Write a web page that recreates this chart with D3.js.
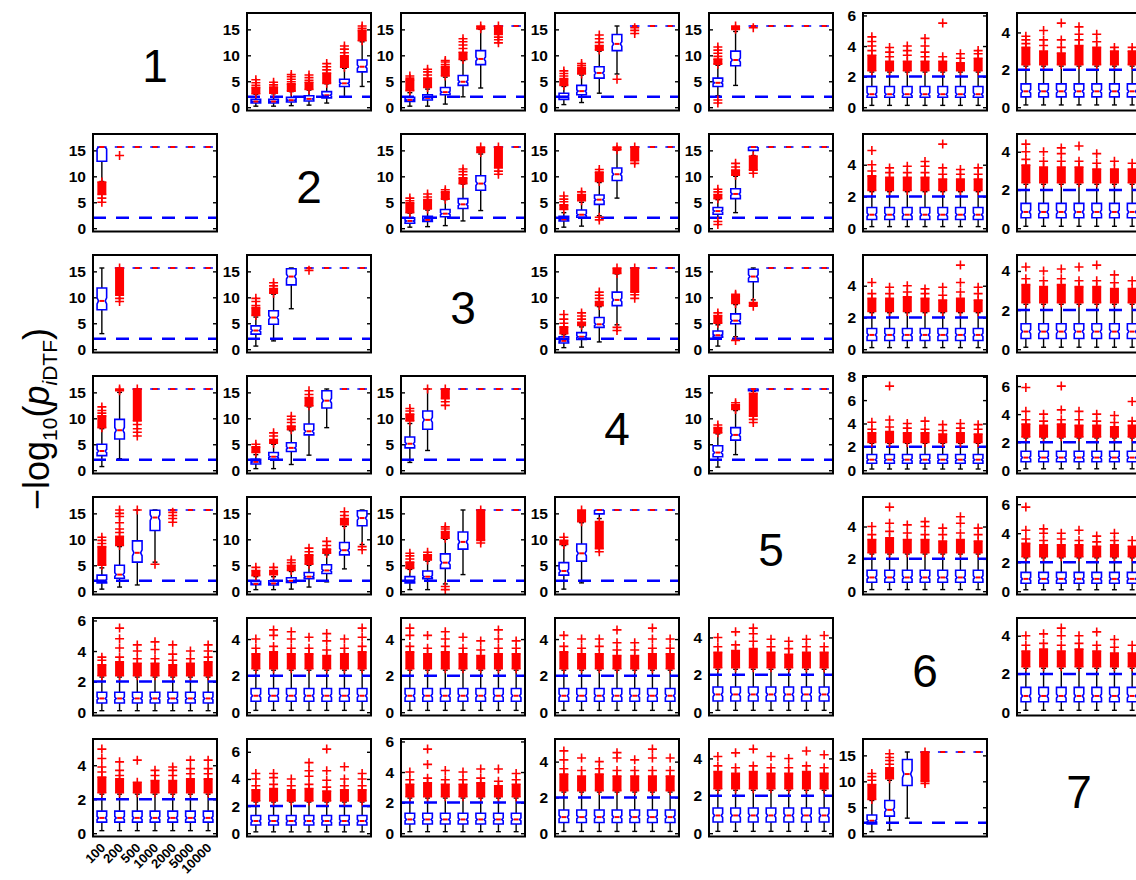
<!DOCTYPE html>
<html>
<head>
<meta charset="utf-8">
<script src="https://cdn.jsdelivr.net/npm/d3@7"></script>
<style>
  body { margin: 0; background: #fff; }
  svg { display: block; }
</style>
</head>
<body>
<svg id="chart" width="1136" height="880"></svg>
<script>
// Ceiling of -log10(p): values saturate at -log10(eps)
const C = 15.65;
const thresholdLevel = 2;

const sampleSizes = ["100", "200", "500", "1000", "2000", "5000", "10000"];
const nodeLabels = ["1", "2", "3", "4", "5", "6", "7"];
const ticksLarge = [0, 5, 10, 15];
const ticksSmall = [0, 2, 4, 6, 8];

// Box statistics for directed pairs with a true connection:
// [row, col, box, lowerWhisker, q1, median, q3, upperWhisker]
const boxStats = [
  [0,1,1, 0.2,0.8,1.1,1.5,2.5], [0,1,2, 0.2,0.8,1.1,1.5,2.6], [0,1,3, 0.3,1.0,1.35,1.9,3.0],
  [0,1,4, 0.4,1.2,1.6,2.2,3.3], [0,1,5, 0.8,1.8,2.3,3.0,4.5], [0,1,6, 2.0,4.0,4.6,5.4,7.5],
  [0,1,7, 4.0,6.8,7.8,9.1,12.6],
  [0,2,1, 0.2,1.1,1.4,1.9,2.8], [0,2,2, 0.2,1.4,1.8,2.4,3.5], [0,2,3, 0.6,2.4,2.9,3.8,5.8],
  [0,2,4, 2.0,4.2,4.9,6.1,9.0], [0,2,5, 3.7,8.2,9.3,10.9,15.0], [0,2,6, C,C,C,C,C], [0,2,7, C,C,C,C,C],
  [0,3,1, 0.5,1.5,2.0,2.7,4.0], [0,3,2, 0.9,2.4,3.1,4.2,6.2], [0,3,3, 2.7,5.6,6.6,7.8,10.8],
  [0,3,4, 6.4,10.9,12.2,14.0,C], [0,3,5, C,C,C,C,C], [0,3,6, C,C,C,C,C], [0,3,7, C,C,C,C,C],
  [0,4,1, 2.2,4.0,4.7,5.6,8.1], [0,4,2, 4.2,8.0,9.1,10.8,14.6], [0,4,3, C,C,C,C,C],
  [0,4,4, C,C,C,C,C], [0,4,5, C,C,C,C,C], [0,4,6, C,C,C,C,C], [0,4,7, C,C,C,C,C],

  [1,0,1, 9.0,12.9,15.65,15.65,C], [1,0,2, C,C,C,C,C], [1,0,3, C,C,C,C,C], [1,0,4, C,C,C,C,C],
  [1,0,5, C,C,C,C,C], [1,0,6, C,C,C,C,C], [1,0,7, C,C,C,C,C],
  [1,2,1, 0.2,0.95,1.4,2.0,2.9], [1,2,2, 0.3,1.3,1.6,2.3,3.5], [1,2,3, 0.5,2.2,2.8,3.6,5.5],
  [1,2,4, 1.4,3.8,4.6,5.7,8.5], [1,2,5, 3.4,7.3,8.6,10.1,14.3], [1,2,6, C,C,C,C,C], [1,2,7, C,C,C,C,C],
  [1,3,1, 0.2,1.4,1.7,2.3,3.0], [1,3,2, 0.4,2.1,2.6,3.5,5.0], [1,3,3, 2.4,4.6,5.5,6.4,8.8],
  [1,3,4, 5.8,9.2,10.4,11.6,15.0], [1,3,5, C,C,C,C,C], [1,3,6, C,C,C,C,C], [1,3,7, C,C,C,C,C],
  [1,4,1, 1.9,2.7,3.3,4.0,5.5], [1,4,2, 3.0,5.7,6.6,7.6,10.0], [1,4,3, 14.0,15.0,15.65,15.65,C],
  [1,4,4, C,C,C,C,C], [1,4,5, C,C,C,C,C], [1,4,6, C,C,C,C,C], [1,4,7, C,C,C,C,C],

  [2,0,1, 3.0,7.6,9.3,11.8,C], [2,0,2, C,C,C,C,C], [2,0,3, C,C,C,C,C], [2,0,4, C,C,C,C,C],
  [2,0,5, C,C,C,C,C], [2,0,6, C,C,C,C,C], [2,0,7, C,C,C,C,C],
  [2,1,1, 0.6,2.9,3.6,4.5,6.2], [2,1,2, 1.6,4.8,6.1,7.4,10.6], [2,1,3, 7.8,12.4,14.0,15.5,C],
  [2,1,4, C,C,C,C,C], [2,1,5, C,C,C,C,C], [2,1,6, C,C,C,C,C], [2,1,7, C,C,C,C,C],
  [2,3,1, 0.3,1.2,1.6,2.4,2.8], [2,3,2, 0.4,1.9,2.4,3.2,4.3], [2,3,3, 1.4,4.2,4.8,6.1,8.2],
  [2,3,4, 4.7,8.4,9.5,11.0,14.5], [2,3,5, C,C,C,C,C], [2,3,6, C,C,C,C,C], [2,3,7, C,C,C,C,C],
  [2,4,1, 0.6,2.3,2.7,3.5,4.7], [2,4,2, 2.4,4.9,5.5,6.8,8.6], [2,4,3, 9.5,13.0,14.0,15.4,C],
  [2,4,4, C,C,C,C,C], [2,4,5, C,C,C,C,C], [2,4,6, C,C,C,C,C], [2,4,7, C,C,C,C,C],

  [3,0,1, 0.7,2.8,3.7,5.0,8.0], [3,0,2, 2.2,6.0,7.7,9.8,15.0], [3,0,3, C,C,C,C,C],
  [3,0,4, C,C,C,C,C], [3,0,5, C,C,C,C,C], [3,0,6, C,C,C,C,C], [3,0,7, C,C,C,C,C],
  [3,1,1, 0.3,1.2,1.6,2.1,3.0], [3,1,2, 0.3,2.1,2.6,3.4,5.0], [3,1,3, 1.1,3.6,4.3,5.3,7.6],
  [3,1,4, 2.9,6.8,7.5,8.9,12.2], [3,1,5, 8.2,12.0,13.4,15.3,C], [3,1,6, C,C,C,C,C], [3,1,7, C,C,C,C,C],
  [3,2,1, 1.5,4.3,5.1,6.4,9.0], [3,2,2, 3.8,7.9,9.7,11.4,C], [3,2,3, C,C,C,C,C],
  [3,2,4, C,C,C,C,C], [3,2,5, C,C,C,C,C], [3,2,6, C,C,C,C,C], [3,2,7, C,C,C,C,C],
  [3,4,1, 0.6,2.6,3.4,4.7,7.0], [3,4,2, 3.0,5.8,6.8,8.2,11.5], [3,4,3, 15.2,15.3,15.65,15.65,C],
  [3,4,4, C,C,C,C,C], [3,4,5, C,C,C,C,C], [3,4,6, C,C,C,C,C], [3,4,7, C,C,C,C,C],

  [4,0,1, 0.4,1.6,2.0,3.1,4.5], [4,0,2, 0.8,2.5,3.2,5.0,8.6], [4,0,3, 1.2,5.6,7.4,9.7,C],
  [4,0,4, 5.6,11.7,14.2,15.6,C], [4,0,5, C,C,C,C,C], [4,0,6, C,C,C,C,C], [4,0,7, C,C,C,C,C],
  [4,1,1, 0.3,1.25,1.4,1.9,2.8], [4,1,2, 0.3,1.2,1.5,2.0,2.8], [4,1,3, 0.4,1.7,2.0,2.6,3.8],
  [4,1,4, 0.8,2.4,2.8,3.6,5.0], [4,1,5, 1.8,3.4,4.0,5.1,7.0], [4,1,6, 4.3,7.0,7.9,9.4,12.5],
  [4,1,7, 9.0,12.6,14.1,15.5,C],
  [4,2,1, 0.3,1.6,2.0,2.8,4.2], [4,2,2, 0.3,2.4,2.8,3.9,5.8], [4,2,3, 1.4,4.4,5.5,7.2,10.0],
  [4,2,4, 3.2,8.1,9.5,11.4,C], [4,2,5, C,C,C,C,C], [4,2,6, C,C,C,C,C], [4,2,7, C,C,C,C,C],
  [4,3,1, 0.4,3.1,3.9,5.5,8.8], [4,3,2, 1.6,5.8,7.3,9.1,13.2], [4,3,3, 14.0,14.9,15.65,15.65,C],
  [4,3,4, C,C,C,C,C], [4,3,5, C,C,C,C,C], [4,3,6, C,C,C,C,C], [4,3,7, C,C,C,C,C],

  [6,5,1, 0.3,1.8,2.4,3.5,6.3], [6,5,2, 0.6,3.3,4.5,6.3,10.2], [6,5,3, 2.9,9.2,11.4,14.2,C],
  [6,5,4, C,C,C,C,C], [6,5,5, C,C,C,C,C], [6,5,6, C,C,C,C,C], [6,5,7, C,C,C,C,C]
];

// Dense runs of outliers that overlap into a solid column: [row, col, box, from, to]
const outlierBands = [
  [0,1,1, 2.6,3.8], [0,1,2, 2.7,3.9], [0,1,3, 3.1,4.5], [0,1,4, 3.4,4.8], [0,1,5, 4.6,6.6],
  [0,1,6, 7.7,9.9], [0,1,7, 12.8,14.8],
  [0,2,1, 3.2,5.3], [0,2,2, 3.8,5.6], [0,2,3, 6.0,7.8], [0,2,4, 9.2,10.6], [0,2,5, 15.1,15.65],
  [0,2,6, 14.0,15.65],
  [0,3,1, 4.2,5.5], [0,3,2, 6.4,7.6], [0,3,3, 11.0,11.9],
  [0,4,1, 8.3,9.3], [0,4,2, 15.0,15.65],
  [1,0,1, 6.5,8.9],
  [1,2,1, 3.0,4.9], [1,2,2, 3.7,5.5], [1,2,3, 5.6,7.0], [1,2,4, 8.6,9.7], [1,2,5, 14.6,15.65],
  [1,2,6, 11.6,15.65],
  [1,3,1, 3.6,4.5], [1,3,2, 5.3,6.5], [1,3,3, 9.0,10.8], [1,3,4, 15.1,15.65], [1,3,5, 13.0,15.65],
  [1,4,1, 5.7,6.5], [1,4,2, 10.2,11.2], [1,4,3, 11.2,13.9],
  [2,0,2, 10.4,15.65],
  [2,1,1, 6.5,8.0], [2,1,2, 10.8,11.7],
  [2,3,1, 3.0,4.3], [2,3,2, 4.6,5.2], [2,3,3, 8.4,9.2], [2,3,4, 14.6,15.65], [2,3,5, 11.0,15.65],
  [2,4,1, 5.0,6.5], [2,4,2, 8.8,10.3], [2,4,3, 8.3,9.0],
  [3,0,1, 8.2,10.5], [3,0,2, 15.3,15.65], [3,0,3, 9.5,15.65],
  [3,1,1, 3.4,4.5], [3,1,2, 5.2,5.9], [3,1,3, 7.8,8.5], [3,1,4, 12.4,14.0],
  [3,2,1, 9.5,10.8], [3,2,3, 13.8,15.65],
  [3,4,1, 7.2,8.2], [3,4,2, 11.7,12.6], [3,4,3, 10.4,14.8],
  [4,0,1, 5.0,8.6], [4,0,2, 8.8,10.6],
  [4,1,1, 3.0,4.0], [4,1,2, 3.2,4.0], [4,1,3, 4.0,5.0], [4,1,4, 5.2,7.0], [4,1,5, 7.3,8.1],
  [4,1,6, 12.8,14.0],
  [4,2,1, 4.4,5.6], [4,2,2, 6.0,7.0], [4,2,3, 10.2,11.5], [4,2,5, 9.8,15.65],
  [4,3,1, 9.0,9.8], [4,3,2, 13.4,15.65], [4,3,3, 8.2,13.4],
  [6,5,1, 6.5,9.4], [6,5,2, 10.5,12.6], [6,5,4, 10.0,15.65]
];

// Isolated outliers: [row, col, box, ...values]
const outlierMarks = [
  [0,1,1, 4.2,4.7,5.3], [0,1,2, 4.3,4.8], [0,1,3, 4.9,5.4,5.9,6.3], [0,1,4, 5.2,5.7,6.2],
  [0,1,5, 7.2,7.8,8.4], [0,1,6, 10.5,11.2,11.8], [0,1,7, 15.2,15.65],
  [0,2,1, 5.6,6.0], [0,2,2, 6.2,6.8,7.3], [0,2,3, 8.2,8.7,9.0], [0,2,4, 11.3,12.0,12.6,13.2],
  [0,2,6, 12.4,13.0,13.5],
  [0,3,1, 6.0,6.5,7.0], [0,3,2, 8.0,8.4], [0,3,3, 12.5,13.2,13.9], [0,3,4, 5.4], [0,3,5, 14.2,14.8,15.3],
  [0,4,1, 0.8,1.4,9.8,10.4,11.0,11.6], [0,4,3, 15.3],
  [1,0,1, 5.0,5.8], [1,0,2, 14.0],
  [1,2,1, 5.3,5.8], [1,2,2, 6.0,6.6], [1,2,3, 7.4], [1,2,4, 10.3,10.9,11.4], [1,2,6, 10.4,11.0],
  [1,3,1, 5.1,5.6,6.2], [1,3,2, 7.0], [1,3,3, 1.6,2.1,11.3], [1,3,5, 12.5],
  [1,4,1, 0.7,1.3,7.0,7.5], [1,4,2, 11.8,12.5], [1,4,3, 10.6],
  [2,0,2, 9.2,9.8],
  [2,1,1, 8.4,9.2,9.8], [2,1,2, 12.2,12.8], [2,1,4, 15.2],
  [2,3,1, 5.0,5.8,6.7], [2,3,2, 5.8,6.4,7.0], [2,3,3, 9.8,10.4,11.0], [2,3,4, 3.6,4.2], [2,3,5, 9.8,10.5],
  [2,4,1, 7.0], [2,4,2, 1.7,10.6],
  [3,0,1, 11.0,11.5,12.2], [3,0,3, 6.6,7.3,8.0,8.8],
  [3,1,1, 5.0], [3,1,2, 6.6,7.2], [3,1,3, 9.2,9.8,10.4], [3,1,4, 14.6,15.3],
  [3,2,1, 11.4,11.9], [3,2,2, 15.65], [3,2,3, 12.5,13.2],
  [3,4,1, 8.7], [3,4,2, 13.0], [3,4,3, 9.2,9.8],
  [4,0,1, 9.2,9.8,10.4], [4,0,2, 11.3,12.0,13.2,14.4,15.0,15.65], [4,0,3, 15.65], [4,0,4, 5.2],
  [4,0,5, 13.3,14.0,14.6,15.2],
  [4,1,1, 4.6], [4,1,2, 4.6], [4,1,3, 5.5,6.0], [4,1,4, 7.6,8.3], [4,1,5, 8.8,9.6], [4,1,6, 14.6,15.3],
  [4,1,7, 8.0,8.6],
  [4,2,1, 6.2,6.8,7.3], [4,2,2, 7.5], [4,2,3, 0.3,0.9,12.0,12.4], [4,2,5, 9.3],
  [4,3,1, 10.4], [4,3,3, 7.6],
  [6,5,1, 10.2,10.9,11.5], [6,5,2, 13.3,14.0,14.6,15.3], [6,5,4, 9.6]
];

// Pairs with no connection: one box shape per panel, shared by its seven sample sizes
// [row, col, lowerWhisker, q1, median, q3, upperWhisker]
const nullBoxStats = [
  [0,5, 0.12,0.65,0.85,1.35,2.3], [0,6, 0.12,0.55,0.85,1.25,2.2],
  [1,5, 0.1,0.55,0.85,1.3,2.3],   [1,6, 0.1,0.55,0.85,1.3,2.3],
  [2,5, 0.1,0.55,0.9,1.3,2.3],    [2,6, 0.1,0.55,0.9,1.3,2.3],
  [3,5, 0.1,0.6,0.9,1.35,2.3],    [3,6, 0.1,0.6,0.9,1.35,2.3],
  [4,5, 0.1,0.55,0.85,1.3,2.3],   [4,6, 0.1,0.55,0.85,1.3,2.3],
  [5,0, 0.1,0.6,0.9,1.3,2.3],     [5,1, 0.1,0.6,0.9,1.3,2.3],
  [5,2, 0.1,0.6,0.9,1.3,2.3],     [5,3, 0.1,0.6,0.9,1.3,2.3],
  [5,4, 0.1,0.6,0.95,1.35,2.3],   [5,6, 0.1,0.55,0.85,1.3,2.3],
  [6,0, 0.15,0.65,0.9,1.3,2.3],   [6,1, 0.1,0.6,0.9,1.3,2.3],
  [6,2, 0.1,0.6,0.9,1.3,2.3],     [6,3, 0.1,0.6,0.9,1.3,2.3],
  [6,4, 0.1,0.6,0.95,1.35,2.3]
];

// Top of the dense outlier column for each of the seven boxes: [row, col, t1..t7]
const nullBandTops = [
  [0,5, 3.4,3.0,3.0,3.0,3.0,2.9,3.2], [0,6, 3.2,3.0,2.9,3.3,3.2,3.0,3.0],
  [1,5, 3.3,3.2,3.2,3.2,3.1,3.1,3.1], [1,6, 3.3,3.2,3.2,3.2,3.1,3.1,3.1],
  [2,5, 3.2,3.2,3.3,3.2,3.1,3.2,3.1], [2,6, 3.3,3.2,3.3,3.2,3.2,3.1,3.1],
  [3,5, 3.2,3.3,3.2,3.2,3.1,3.2,3.1], [3,6, 3.3,3.2,3.3,3.2,3.2,3.1,3.2],
  [4,5, 3.2,3.3,3.2,3.2,3.1,3.2,3.1], [4,6, 3.3,3.2,3.2,3.2,3.1,3.2,3.1],
  [5,0, 3.1,3.3,3.2,3.2,3.1,3.2,3.3], [5,1, 3.2,3.3,3.2,3.2,3.1,3.2,3.3],
  [5,2, 3.3,3.2,3.3,3.2,3.1,3.2,3.2], [5,3, 3.3,3.2,3.2,3.1,3.1,3.2,3.2],
  [5,4, 3.2,3.3,3.4,3.2,3.1,3.2,3.2], [5,6, 3.2,3.3,3.2,3.3,3.2,3.1,3.1],
  [6,0, 3.3,3.2,3.0,3.1,3.1,3.2,3.2], [6,1, 3.2,3.3,3.2,3.3,3.1,3.2,3.2],
  [6,2, 3.2,3.3,3.2,3.2,3.3,3.1,3.2], [6,3, 3.3,3.2,3.3,3.2,3.2,3.2,3.2],
  [6,4, 3.3,3.2,3.3,3.2,3.2,3.3,3.2]
];

// Isolated outliers above the dense column, per box: [row, col, [box1], ..., [box7]]
const nullMarks = [
  [0,5, [3.7,4.0,4.3,4.6], [3.3,3.6,3.9], [3.4,3.7,4.0], [3.3,3.6,4.0,4.5], [3.3,5.5], [3.2,3.5], [3.5,3.7]],
  [0,6, [3.4,3.6,3.8], [3.3,3.6,4.1], [3.2,3.6,4.5], [3.6,3.9,4.3], [3.5,3.9], [3.2], [3.2]],
  [1,5, [3.6,4.0,4.9], [3.5,3.8], [3.5,3.9], [3.5,3.9,4.2], [3.4,3.8,5.3], [3.4,3.7], [3.4,3.8]],
  [1,6, [3.6,4.0,4.4], [3.5,4.0], [3.5,3.9,4.2], [3.5,4.3], [3.4,3.9], [3.5], [3.4]],
  [2,5, [3.5,4.2], [3.5,3.9], [3.6,4.0], [3.5,3.8], [3.4,3.9], [3.6,4.2,5.3], [3.5,3.9]],
  [2,6, [3.6,4.2], [3.5,4.0], [3.6,4.1], [3.5,4.2], [3.5,4.3], [3.4,3.8], [3.5]],
  [3,5, [3.5,4.1], [3.7,4.3,7.2], [3.6,4.0], [3.5,4.2], [3.4,3.9], [3.6,4.0], [3.5,3.9]],
  [3,6, [3.6,4.2,5.9], [3.5,4.0], [3.6,4.3,6.0], [3.6,4.2], [3.5,4.0], [3.4,3.9], [3.5,4.9]],
  [4,5, [3.5,4.0], [3.7,4.2,5.2], [3.6,4.1], [3.5,4.0,4.3], [3.5,3.9], [3.6,4.2,4.6], [3.5,3.9]],
  [4,6, [3.6,4.2,5.8], [3.5,4.0,4.3], [3.6,4.0], [3.5,4.2], [3.4,3.8], [3.5,4.0], [3.5]],
  [5,0, [3.4,3.6], [3.6,4.2,4.8,5.5], [3.5,4.0,4.4], [3.5,4.1,4.6], [3.4,3.8,4.4], [3.5,4.0], [3.6,4.0,4.4]],
  [5,1, [3.5,4.0], [3.6,4.2,4.5], [3.5,4.0,4.4], [3.5,4.1], [3.4,3.9,4.3], [3.5,4.0], [3.6,4.1,4.6]],
  [5,2, [3.6,4.2,4.6], [3.5,4.2], [3.6,4.0,4.4], [3.5,4.1], [3.4,3.9], [3.5,4.0,4.5], [3.5,3.9]],
  [5,3, [3.6,4.2], [3.5,4.0], [3.6,4.0], [3.4,3.8,4.5], [3.4,3.8], [3.5,4.0,4.6], [3.5,4.0]],
  [5,4, [3.5,4.0], [3.6,4.3], [3.8,4.2,4.5], [3.5,3.9], [3.4,3.8], [3.5,3.9], [3.5,4.1]],
  [5,6, [3.5,4.0], [3.6,4.1], [3.5,4.0,4.4], [3.6,4.0], [3.5,4.2], [3.4,3.8], [3.5]],
  [6,0, [3.6,3.9,4.4,4.95], [3.4,3.7,4.2], [4.3], [3.4,3.7], [3.4,3.7,3.9], [3.5,3.8,4.3], [3.5,3.8,4.3]],
  [6,1, [3.5,4.0,4.4], [3.6,4.1,4.4], [3.5,4.0], [3.6,4.2,4.6,5.2], [3.4,3.9,4.6,6.2], [3.5,4.0,4.9], [3.5,4.0,4.4]],
  [6,2, [3.5,4.0], [3.6,4.5,5.5], [3.5,4.1], [3.5,4.0], [3.6,4.2], [3.4,4.2], [3.5,3.9]],
  [6,3, [3.6,4.1,4.6], [3.5,4.2], [3.6,4.0], [3.5,4.2,4.5], [3.5,4.1], [3.5,4.2,4.7], [3.5,4.2]],
  [6,4, [3.6,4.1], [3.5,4.3], [3.6,4.5], [3.5,4.1], [3.5,4.0], [3.6,4.4], [3.5,4.2]]
];

// ---------- layout ----------
const gridLeft = 93, gridTop = 13, colStep = 154, rowStep = 121;
const panelW = 124, panelH = 97.5;
const nodeCount = nodeLabels.length;

const blue = "#0000ff", red = "#ff0000";
const fontFamily = "'Liberation Sans', Arial, Helvetica, sans-serif";

const svg = d3.select("#chart");
svg.append("rect").attr("width", 1136).attr("height", 880).attr("fill", "#fff");

// assemble per-panel box records
function panelBoxes(r, c) {
  const nullRow = nullBoxStats.find(d => d[0] === r && d[1] === c);
  const boxes = [];
  if (nullRow) {
    const tops = nullBandTops.find(d => d[0] === r && d[1] === c);
    const marks = nullMarks.find(d => d[0] === r && d[1] === c);
    for (let b = 1; b <= sampleSizes.length; b++) {
      const [lo, q1, med, q3, hi] = nullRow.slice(2);
      boxes.push({
        b, lo, q1, med, q3, hi,
        bands: [[hi + 0.08, tops[b + 1]]],
        marks: marks[b + 1]
      });
    }
    return { boxes, strong: false };
  }
  boxStats.filter(d => d[0] === r && d[1] === c).forEach(d => {
    const b = d[2];
    boxes.push({
      b, lo: d[3], q1: d[4], med: d[5], q3: d[6], hi: d[7],
      bands: outlierBands.filter(o => o[0] === r && o[1] === c && o[2] === b).map(o => [o[3], o[4]]),
      marks: outlierMarks.filter(o => o[0] === r && o[1] === c && o[2] === b).flatMap(o => o.slice(3))
    });
  });
  return { boxes, strong: true };
}

const plusPath = "M-4.5,0H4.5M0,-4.5V4.5";
const boxHalf = 0.27, capHalf = 0.14;

for (let r = 0; r < nodeCount; r++) {
  for (let c = 0; c < nodeCount; c++) {
    const px = gridLeft + c * colStep, py = gridTop + r * rowStep;
    const g = svg.append("g").attr("transform", `translate(${px},${py})`);

    if (r === c) {
      g.append("text")
        .attr("x", panelW / 2).attr("y", panelH / 2 + 4)
        .attr("text-anchor", "middle").attr("dominant-baseline", "central")
        .style("font-family", fontFamily).style("font-size", "46px")
        .text(nodeLabels[r]);
      continue;
    }

    const { boxes, strong } = panelBoxes(r, c);
    const allVals = boxes.flatMap(d => [d.lo, d.hi, ...d.bands.flat(), ...d.marks]);
    const vMax = d3.max(allVals);
    const yTop = strong ? vMax * 1.16 : vMax * 1.12;
    const yBot = -0.035 * yTop;

    const x = d3.scaleLinear().domain([0.5, sampleSizes.length + 0.5]).range([0, panelW]);
    const y = d3.scaleLinear().domain([yBot, yTop]).range([panelH, 0]);
    const ticks = (yTop > 10 ? ticksLarge : ticksSmall).filter(t => t <= yTop);

    // axes with inward ticks on both sides
    const axL = g.append("g").call(
      d3.axisLeft(y).tickValues(ticks).tickSizeInner(-4).tickSizeOuter(0).tickPadding(7).tickFormat(d3.format("d")));
    axL.select(".domain").remove();
    axL.selectAll("line").attr("stroke", "#000").attr("stroke-width", 1.4);
    axL.selectAll("text").style("font-family", fontFamily).style("font-size", "15.5px")
      .style("font-weight", "bold").attr("fill", "#000");

    const axR = g.append("g").attr("transform", `translate(${panelW},0)`).call(
      d3.axisRight(y).tickValues(ticks).tickSizeInner(-4).tickSizeOuter(0).tickFormat(""));
    axR.select(".domain").remove();
    axR.selectAll("line").attr("stroke", "#000").attr("stroke-width", 1.4);

    const plot = g.append("g");

    // whiskers and caps
    boxes.forEach(d => {
      const cx = x(d.b);
      plot.append("line").attr("x1", cx).attr("x2", cx).attr("y1", y(d.q3)).attr("y2", y(d.hi))
        .attr("stroke", "#000").attr("stroke-width", 1.4);
      plot.append("line").attr("x1", cx).attr("x2", cx).attr("y1", y(d.q1)).attr("y2", y(d.lo))
        .attr("stroke", "#000").attr("stroke-width", 1.4);
      [d.lo, d.hi].forEach(v => {
        plot.append("line")
          .attr("x1", x(d.b - capHalf)).attr("x2", x(d.b + capHalf))
          .attr("y1", y(v)).attr("y2", y(v))
          .attr("stroke", "#000").attr("stroke-width", 1.4);
      });
    });

    // notched boxes and medians
    boxes.forEach(d => {
      const xl = x(d.b - boxHalf), xr = x(d.b + boxHalf);
      const xnl = x(d.b - boxHalf * 0.7), xnr = x(d.b + boxHalf * 0.7);
      const xml = x(d.b - boxHalf / 2), xmr = x(d.b + boxHalf / 2);
      const notch = 0.14 * (d.q3 - d.q1);
      const nLo = Math.max(d.q1, d.med - notch), nHi = Math.min(d.q3, d.med + notch);
      const pts = [
        [xl, y(d.q1)], [xl, y(nLo)], [xnl, y(d.med)], [xl, y(nHi)], [xl, y(d.q3)],
        [xr, y(d.q3)], [xr, y(nHi)], [xnr, y(d.med)], [xr, y(nLo)], [xr, y(d.q1)]
      ];
      plot.append("path").attr("d", "M" + pts.map(p => p.join(",")).join("L") + "Z")
        .attr("fill", "none").attr("stroke", blue).attr("stroke-width", 1.6)
        .attr("stroke-linejoin", "miter");
      plot.append("line").attr("x1", xml).attr("x2", xmr).attr("y1", y(d.med)).attr("y2", y(d.med))
        .attr("stroke", red).attr("stroke-width", 2);
    });

    // significance threshold
    plot.append("line")
      .attr("x1", x(0.5)).attr("x2", x(sampleSizes.length + 0.5))
      .attr("y1", y(thresholdLevel)).attr("y2", y(thresholdLevel))
      .attr("stroke", blue).attr("stroke-width", 2.5).attr("stroke-dasharray", "13,10");

    // outliers
    boxes.forEach(d => {
      const cx = x(d.b);
      d.bands.forEach(([a, b]) => {
        plot.append("rect").attr("x", cx - 4.5).attr("width", 9)
          .attr("y", y(b)).attr("height", Math.max(0, y(a) - y(b))).attr("fill", red);
        [a, b].forEach(v => plot.append("path").attr("d", plusPath)
          .attr("transform", `translate(${cx},${y(v)})`)
          .attr("stroke", red).attr("stroke-width", 1.6).attr("fill", "none"));
      });
      d.marks.forEach(v => plot.append("path").attr("d", plusPath)
        .attr("transform", `translate(${cx},${y(v)})`)
        .attr("stroke", red).attr("stroke-width", 1.6).attr("fill", "none"));
    });

    // frame
    g.append("rect").attr("width", panelW).attr("height", panelH)
      .attr("fill", "none").attr("stroke", "#000").attr("stroke-width", 2);

    // sample-size labels under the bottom-left panel
    if (r === nodeCount - 1 && c === 0) {
      sampleSizes.forEach((s, i) => {
        g.append("text")
          .attr("transform", `translate(${x(i + 1) + 1},${panelH + 9}) rotate(-45)`)
          .attr("text-anchor", "end").attr("dominant-baseline", "central")
          .style("font-family", fontFamily).style("font-size", "13px").style("font-weight", "bold")
          .text(s);
      });
    }
  }
}

// y-axis title: -log10(p_iDTF)
const yl = svg.append("text")
  .attr("transform", "translate(49,510) rotate(-90)")
  .attr("text-anchor", "start")
  .style("font-family", fontFamily).style("font-size", "36px");
yl.append("tspan").text("\u2212log");
yl.append("tspan").attr("dy", 8).style("font-size", "21px").text("10");
yl.append("tspan").attr("dy", -8).text("(");
yl.append("tspan").style("font-style", "italic").text("p");
yl.append("tspan").attr("dy", 8).style("font-size", "21px").style("font-style", "italic").text("i");
yl.append("tspan").style("font-size", "21px").text("DTF");
yl.append("tspan").attr("dy", -8).text(")");
</script>
</body>
</html>
